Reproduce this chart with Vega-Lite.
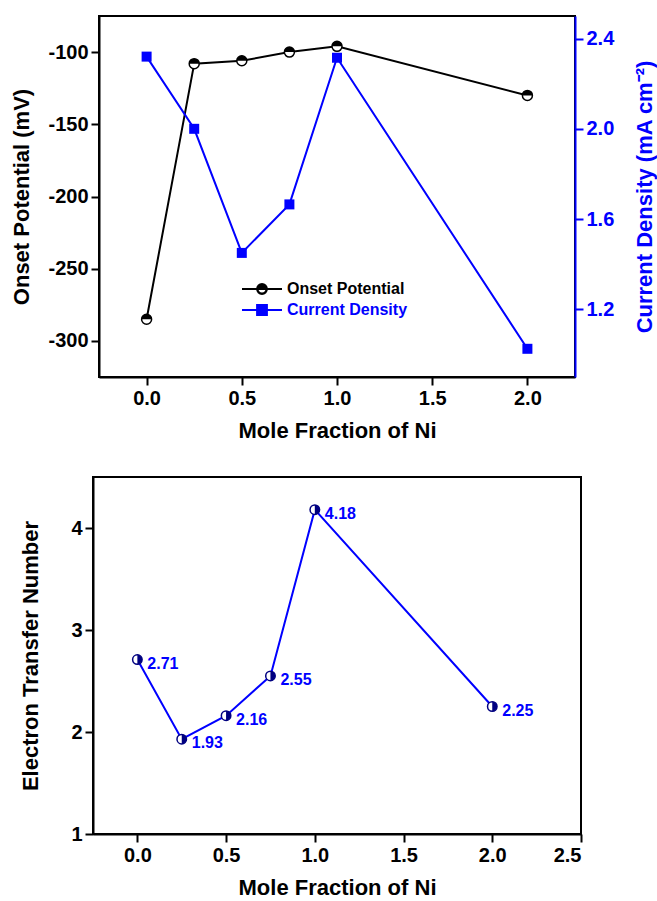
{
  "$schema": "https://vega.github.io/schema/vega-lite/v6.json",
  "padding": {"left": 9, "top": 15, "right": 0, "bottom": 0},
  "background": "white",
  "datasets": {
    "top": [
      {"x": 0, "onset": -285, "current": 2.32},
      {"x": 0.25, "onset": -108, "current": 2.0},
      {"x": 0.5, "onset": -106, "current": 1.45},
      {"x": 0.75, "onset": -100, "current": 1.665},
      {"x": 1.0, "onset": -96, "current": 2.315},
      {"x": 2.0, "onset": -130, "current": 1.025}
    ],
    "bottom": [
      {"x": 0, "n": 2.71},
      {"x": 0.25, "n": 1.93},
      {"x": 0.5, "n": 2.16},
      {"x": 0.75, "n": 2.55},
      {"x": 1.0, "n": 4.18},
      {"x": 2.0, "n": 2.25}
    ],
    "legend": [
      {"series": "Onset Potential"},
      {"series": "Current Density"}
    ]
  },
  "config": {
    "font": "Liberation Sans",
    "view": {"stroke": "black", "strokeWidth": 2},
    "axis": {
      "grid": false,
      "labelFont": "Liberation Sans",
      "labelFontSize": 20,
      "labelFontWeight": "bold",
      "labelColor": "black",
      "titleFont": "Liberation Sans",
      "titleFontSize": 22,
      "titleFontWeight": "bold",
      "titleColor": "black",
      "tickSize": 8,
      "tickWidth": 2,
      "tickColor": "black",
      "domainColor": "black",
      "domainWidth": 2,
      "labelPadding": 3
    }
  },
  "bounds": "flush",
  "center": true,
  "spacing": 100,
  "vconcat": [
    {
      "width": 476,
      "height": 361,
      "layer": [
        {
          "data": {"name": "top"},
          "encoding": {
            "x": {"field": "x", "type": "quantitative", "scale": {"domain": [-0.25, 2.25], "nice": false, "zero": false},
                  "axis": {"title": "Mole Fraction of Ni", "values": [0, 0.5, 1, 1.5, 2], "format": ".1f", "titlePadding": 12}},
            "y": {"field": "onset", "type": "quantitative", "scale": {"domain": [-325, -75], "nice": false, "zero": false},
                  "axis": {"orient": "left", "title": "Onset Potential (mV)", "values": [-300, -250, -200, -150, -100], "labelExpr": "toString(datum.value)", "titlePadding": 14}}
          },
          "layer": [
            {"mark": {"type": "line", "color": "black", "strokeWidth": 2}},
            {"mark": {"type": "point", "shape": "circle", "filled": true, "fill": "white", "stroke": "black", "strokeWidth": 1.5, "size": 100, "opacity": 1}},
            {"mark": {"type": "point", "shape": "M-1,0A1,1,0,0,1,1,0Z", "filled": true, "color": "black", "size": 100, "opacity": 1}},
            {
              "data": {"values": [{}]},
              "mark": {"type": "text", "text": "a)", "fontSize": 20, "fontWeight": "bold", "align": "right", "baseline": "middle", "color": "black"},
              "encoding": {"x": {"datum": 2.2, "type": "quantitative"}, "y": {"datum": -88, "type": "quantitative"}}
            }
          ]
        },
        {
          "data": {"name": "top"},
          "encoding": {
            "x": {"field": "x", "type": "quantitative"},
            "y": {"field": "current", "type": "quantitative", "scale": {"domain": [0.9, 2.5], "nice": false, "zero": false},
                  "axis": {"orient": "right", "title": "Current Density (mA cm⁻²)", "values": [1.2, 1.6, 2.0, 2.4], "format": ".1f",
                           "domainColor": "#0000ff", "tickColor": "#0000ff", "labelColor": "#0000ff", "titleColor": "#0000ff",
                           "titleAngle": 270, "titleBaseline": "top", "titlePadding": 21}}
          },
          "layer": [
            {"mark": {"type": "line", "color": "#0000ff", "strokeWidth": 2}},
            {"mark": {"type": "point", "shape": "square", "filled": true, "color": "#0000ff", "size": 100, "opacity": 1}}
          ]
        },
        {
          "data": {"name": "legend"},
          "mark": {"type": "point", "filled": true, "opacity": 0},
          "encoding": {
            "fill": {"field": "series", "type": "nominal",
                     "scale": {"domain": ["Onset Potential", "Current Density"], "range": ["black", "#0000ff"]},
                     "legend": {"title": null, "orient": "none", "legendX": 158, "legendY": 262, "symbolSize": 400, "symbolStrokeWidth": 1.8, "symbolOpacity": 1,
                                "labelFont": "Liberation Sans", "labelFontSize": 16, "labelFontWeight": "bold",
                                "labelColor": {"expr": "datum.label === 'Onset Potential' ? 'black' : '#0000ff'"},
                                "labelOffset": 14, "rowPadding": 1, "padding": 0}},
            "stroke": {"field": "series", "type": "nominal",
                       "scale": {"domain": ["Onset Potential", "Current Density"], "range": ["black", "#0000ff"]},
                       "legend": {"title": null, "orient": "none", "legendX": 158, "legendY": 262, "symbolSize": 400, "symbolStrokeWidth": 1.8, "symbolOpacity": 1,
                                "labelFont": "Liberation Sans", "labelFontSize": 16, "labelFontWeight": "bold",
                                "labelColor": {"expr": "datum.label === 'Onset Potential' ? 'black' : '#0000ff'"},
                                "labelOffset": 14, "rowPadding": 1, "padding": 0}},
            "shape": {"field": "series", "type": "nominal",
                      "scale": {"domain": ["Onset Potential", "Current Density"],
                                "range": ["M-2,0H-0.5M0.5,0H2M-0.5,0A0.5,0.5,0,0,1,0.5,0ZM0.5,0A0.5,0.5,0,0,1,-0.5,0L-0.43,0A0.43,0.43,0,0,0,0.43,0Z",
                                          "M-2,0H2M-0.5,-0.5H0.5V0.5H-0.5Z"]},
                      "legend": {"title": null, "orient": "none", "legendX": 158, "legendY": 262, "symbolSize": 400, "symbolStrokeWidth": 1.8, "symbolOpacity": 1,
                                "labelFont": "Liberation Sans", "labelFontSize": 16, "labelFontWeight": "bold",
                                "labelColor": {"expr": "datum.label === 'Onset Potential' ? 'black' : '#0000ff'"},
                                "labelOffset": 14, "rowPadding": 1, "padding": 0}}
          }
        }
      ],
      "resolve": {"scale": {"y": "independent"}}
    },
    {
      "width": 488,
      "height": 357,
      "data": {"name": "bottom"},
      "encoding": {
        "x": {"field": "x", "type": "quantitative", "scale": {"domain": [-0.25, 2.5], "nice": false, "zero": false},
              "axis": {"title": "Mole Fraction of Ni", "values": [0, 0.5, 1, 1.5, 2, 2.5], "format": ".1f", "titlePadding": 12}},
        "y": {"field": "n", "type": "quantitative", "scale": {"domain": [1, 4.5], "nice": false, "zero": false},
              "axis": {"title": "Electron Transfer Number", "values": [1, 2, 3, 4], "format": "d", "titlePadding": 28}}
      },
      "layer": [
        {"mark": {"type": "line", "color": "#0000ff", "strokeWidth": 2}},
        {"mark": {"type": "point", "shape": "circle", "filled": true, "fill": "white", "stroke": "#000080", "strokeWidth": 1.5, "size": 90, "opacity": 1}},
        {"mark": {"type": "point", "shape": "M0,-1A1,1,0,0,1,0,1Z", "filled": true, "color": "#000080", "size": 90, "opacity": 1}},
        {
          "mark": {"type": "text", "align": "left", "baseline": "middle", "dx": 10, "dy": 4, "fontSize": 16, "fontWeight": "bold", "color": "#0000ff"},
          "encoding": {"text": {"field": "n", "type": "quantitative", "format": ".2f"}}
        },
        {
          "data": {"values": [{}]},
          "mark": {"type": "text", "text": "b)", "fontSize": 20, "fontWeight": "bold", "align": "right", "baseline": "middle", "color": "black"},
          "encoding": {"x": {"datum": 2.4, "type": "quantitative"}, "y": {"datum": 4.2, "type": "quantitative"}}
        }
      ]
    }
  ]
}
